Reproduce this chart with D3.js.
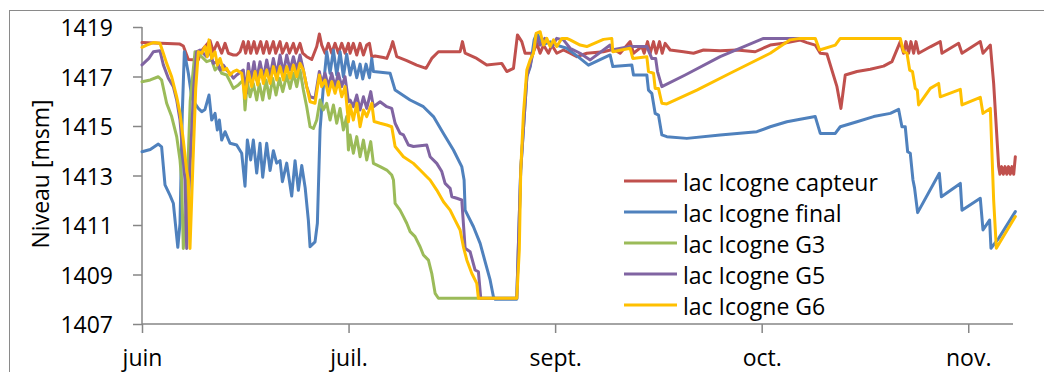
<!DOCTYPE html>
<html><head><meta charset="utf-8">
<script src="https://cdn.jsdelivr.net/npm/d3@7/dist/d3.min.js"></script>
<style>
html,body{margin:0;padding:0;background:#fff;}
svg{display:block;font-family:"Open Sans",sans-serif;}
</style></head>
<body>
<svg id="chart" width="1044" height="372"></svg>
<script>
// ---- data (x = days since start of axis, y = level in msm) ----
const xTickDays = [0, 30, 60, 90, 120];
const xTickLabels = ["juin", "juil.", "sept.", "oct.", "nov."];
const yTicks = [1407, 1409, 1411, 1413, 1415, 1417, 1419];
const seriesNames = ["lac Icogne capteur", "lac Icogne final", "lac Icogne G3", "lac Icogne G5", "lac Icogne G6"];
const seriesColors = ["#C0504D", "#4F81BD", "#9BBB59", "#8064A2", "#FFC000"];

const capteur = [[0,1418.37],[5.5,1418.31],[6.0,1418.23],[6.73,1417.69],[8.18,1417.67],[8.52,1418.0],[9.88,1418.45],[10.36,1418.0],[10.94,1418.37],[11.57,1417.94],[12.06,1418.34],[12.54,1417.94],[13.27,1417.87],[13.75,1417.87],[14.24,1418.0],[14.72,1418.41],[15.06,1417.94],[15.45,1418.41],[15.79,1417.94],[16.27,1418.41],[16.66,1417.94],[17.24,1418.41],[17.63,1417.94],[18.11,1418.41],[18.5,1417.94],[19.08,1418.41],[19.42,1417.94],[20.05,1418.41],[20.39,1417.94],[21.02,1418.34],[21.4,1417.94],[21.99,1418.34],[22.37,1417.94],[22.95,1418.34],[23.34,1417.94],[23.92,1417.8],[24.65,1417.69],[25.38,1418.21],[25.76,1418.72],[26.1,1418.27],[26.59,1417.94],[27.07,1418.34],[27.56,1417.94],[28.04,1418.34],[28.52,1417.94],[29.01,1418.34],[29.49,1417.94],[29.98,1418.34],[30.22,1417.94],[30.7,1418.34],[31.19,1417.87],[31.67,1418.34],[32.16,1417.87],[32.64,1418.27],[33.03,1418.34],[33.37,1417.8],[33.85,1417.83],[35.06,1417.77],[35.55,1417.73],[36.13,1418.14],[36.42,1418.41],[37.0,1417.8],[38.45,1417.64],[39.9,1417.46],[41.26,1417.33],[42.08,1417.73],[43.05,1418.0],[44.75,1418.0],[46.2,1418.0],[46.54,1418.41],[46.93,1417.94],[48.62,1417.73],[50.07,1417.46],[52.25,1417.53],[52.98,1417.2],[53.95,1417.33],[54.53,1418.68],[55.16,1418.41],[55.64,1417.94],[56.76,1417.94],[57.34,1418.34],[57.82,1417.94],[58.31,1418.27],[59.03,1417.94],[59.52,1418.27],[60.24,1417.94],[61.21,1418.07],[62.18,1417.94],[63.15,1417.8],[64.6,1417.94],[67.02,1418.0],[68.48,1418.1],[69.44,1417.94],[70.9,1418.41],[71.38,1417.94],[72.59,1418.21],[72.93,1417.94],[73.42,1418.41],[73.8,1417.94],[74.29,1418.41],[74.67,1417.94],[75.16,1418.41],[75.55,1417.94],[75.98,1418.34],[76.71,1418.07],[78.65,1418.0],[80.1,1417.94],[81.55,1418.07],[83.97,1418.04],[86.39,1418.07],[89.06,1418.0],[91.24,1418.27],[93.17,1418.34],[95.6,1418.47],[96.57,1418.37],[97.78,1418.27],[98.51,1417.94],[99.48,1417.91],[100.93,1416.59],[101.51,1415.71],[102.14,1417.06],[103.84,1417.2],[105.77,1417.29],[107.71,1417.42],[108.92,1417.6],[110.13,1418.41],[110.61,1417.94],[110.95,1418.41],[111.34,1417.94],[111.68,1418.41],[112.07,1417.94],[112.41,1418.41],[112.79,1417.94],[114.49,1418.2],[115.94,1418.41],[116.18,1417.94],[118.6,1418.34],[119.09,1417.94],[121.75,1418.41],[122.14,1417.94],[123.21,1418.27],[123.69,1416.72],[124.42,1413.36],[124.6,1413.05],[124.85,1413.36],[125.1,1413.05],[125.35,1413.36],[125.6,1413.05],[125.85,1413.36],[126.1,1413.05],[126.35,1413.36],[126.6,1413.05],[126.84,1413.76]];

const final = [[0,1413.96],[1.2,1414.05],[2.37,1414.27],[2.85,1414.16],[3.34,1412.62],[4.07,1412.2],[4.55,1411.88],[5.04,1410.53],[5.2,1410.1],[5.52,1411.07],[5.85,1415.5],[6.15,1418.0],[6.73,1417.13],[7.22,1416.18],[7.7,1415.9],[8.18,1415.71],[8.67,1415.58],[9.15,1415.67],[9.73,1416.25],[10.12,1415.24],[10.61,1415.51],[10.94,1414.84],[11.24,1415.24],[11.57,1414.43],[12.06,1414.77],[12.79,1414.3],[13.75,1414.23],[14.48,1413.9],[14.96,1412.57],[15.3,1414.43],[15.79,1413.63],[16.17,1414.43],[16.66,1413.1],[17.14,1414.3],[17.53,1412.93],[18.11,1414.3],[18.6,1413.2],[19.08,1414.0],[19.56,1413.5],[20.05,1413.6],[20.39,1412.75],[21.02,1413.5],[21.74,1412.17],[22.23,1413.6],[22.71,1412.4],[23.2,1413.4],[23.7,1412.5],[24.16,1411.2],[24.41,1410.12],[25.13,1410.32],[25.47,1411.07],[25.86,1414.84],[26.34,1416.59],[26.83,1418.0],[27.31,1417.13],[27.8,1418.07],[28.28,1417.06],[28.77,1418.0],[29.25,1416.99],[29.73,1417.9],[30.22,1417.06],[30.7,1417.6],[31.19,1416.95],[31.67,1417.5],[32.06,1416.9],[32.54,1417.5],[33.03,1416.95],[33.37,1417.73],[33.61,1417.2],[36.03,1417.13],[36.76,1416.45],[38.94,1416.05],[40.87,1415.78],[42.33,1415.38],[43.78,1414.7],[45.23,1414.03],[46.44,1413.36],[46.78,1412.82],[46.93,1411.6],[48.14,1410.93],[49.11,1410.26],[49.83,1409.52],[50.56,1408.78],[51.04,1408.1],[51.3,1408.0],[54.43,1408.0],[55.0,1413.2],[55.9,1417.0],[56.4,1417.4],[56.95,1418.48],[57.34,1418.74],[58.3,1418.3],[59.3,1418.4],[60.2,1418.27],[61.7,1418.14],[63.63,1417.73],[64.84,1417.46],[67.99,1417.87],[68.38,1417.4],[71.14,1417.46],[71.38,1417.06],[73.32,1417.06],[73.56,1416.45],[74.04,1416.32],[74.53,1415.51],[75.01,1415.44],[75.5,1414.64],[76.22,1414.57],[79.13,1414.5],[83.97,1414.64],[89.3,1414.77],[91.24,1414.97],[93.66,1415.17],[95.6,1415.27],[97.78,1415.38],[98.51,1414.7],[100.69,1414.7],[101.41,1414.97],[103.84,1415.17],[106.26,1415.38],[108.68,1415.51],[109.89,1415.67],[110.37,1414.97],[110.85,1414.97],[111.2,1413.96],[111.58,1413.9],[111.97,1412.82],[112.2,1412.5],[112.65,1411.5],[115.8,1413.09],[116.1,1412.14],[118.85,1412.68],[119.09,1411.6],[121.75,1412.08],[122.14,1410.8],[123.1,1411.2],[123.3,1410.06],[124.42,1410.46],[126.84,1411.54]];

const g3 = [[0,1416.79],[1.2,1416.86],[2.37,1416.99],[2.85,1416.86],[3.58,1415.92],[4.31,1415.38],[5.04,1414.57],[5.52,1413.62],[5.76,1412.8],[6.0,1410.05],[6.5,1412.0],[7.0,1416.0],[7.7,1418.0],[7.94,1418.0],[8.67,1417.8],[9.39,1417.6],[10.12,1417.67],[10.61,1417.26],[11.09,1417.4],[11.57,1417.13],[12.3,1417.06],[12.79,1416.79],[13.27,1416.52],[14.0,1416.66],[14.72,1416.86],[14.96,1415.65],[15.3,1416.79],[15.69,1416.18],[16.17,1416.72],[16.66,1416.05],[17.05,1416.72],[17.53,1416.05],[18.02,1416.86],[18.5,1416.12],[18.98,1416.93],[19.47,1416.25],[19.95,1416.93],[20.44,1416.39],[21.02,1417.06],[21.5,1416.52],[21.99,1417.13],[22.47,1416.59],[22.95,1417.26],[23.44,1416.45],[23.92,1415.78],[24.41,1414.97],[24.89,1414.9],[25.38,1415.24],[25.86,1416.05],[26.34,1415.65],[26.83,1415.92],[27.31,1415.24],[27.8,1415.85],[28.28,1415.11],[28.77,1415.71],[29.25,1414.84],[29.73,1415.38],[29.98,1414.03],[30.22,1414.64],[30.7,1413.9],[31.19,1414.57],[31.67,1413.76],[32.16,1414.43],[32.64,1413.63],[33.22,1414.37],[33.61,1413.49],[34.58,1413.36],[35.55,1413.22],[36.27,1413.02],[36.52,1412.82],[36.76,1411.87],[37.48,1411.6],[37.97,1411.34],[38.45,1411.07],[38.94,1410.73],[39.66,1410.53],[40.39,1410.12],[40.87,1409.79],[41.6,1409.58],[42.08,1409.05],[42.57,1408.24],[43.05,1408.04],[54.43,1408.04]];

const g5 = [[0,1417.47],[1.0,1417.73],[1.65,1418.0],[2.61,1418.04],[3.1,1417.47],[3.83,1416.93],[4.55,1416.59],[5.04,1416.05],[5.52,1415.24],[6.0,1413.63],[6.24,1412.82],[6.49,1410.05],[7.0,1413.5],[7.5,1416.5],[7.94,1418.0],[8.43,1418.07],[8.91,1417.94],[9.39,1417.8],[9.88,1418.0],[10.36,1417.53],[10.94,1417.6],[11.33,1417.26],[11.82,1417.46],[12.3,1417.26],[12.79,1417.13],[13.27,1416.93],[13.75,1417.06],[14.72,1417.26],[15.11,1416.32],[15.45,1417.53],[15.79,1416.79],[16.27,1417.6],[16.66,1416.86],[17.14,1417.6],[17.63,1416.93],[18.11,1417.67],[18.6,1417.0],[19.08,1417.73],[19.56,1417.06],[20.05,1417.87],[20.53,1417.13],[21.02,1417.87],[21.5,1417.26],[21.99,1417.8],[22.47,1417.26],[22.95,1417.87],[23.44,1417.26],[23.92,1416.59],[24.41,1416.18],[25.13,1416.12],[25.76,1417.2],[26.1,1416.72],[26.59,1417.13],[27.07,1416.59],[27.56,1417.13],[28.04,1416.59],[28.52,1417.13],[29.01,1416.59],[29.49,1416.99],[29.98,1415.98],[30.22,1416.05],[30.7,1415.78],[31.19,1416.25],[31.67,1415.65],[32.16,1416.18],[32.64,1415.71],[33.22,1416.39],[33.61,1415.78],[34.58,1415.98],[35.55,1415.78],[36.27,1415.71],[36.76,1415.11],[37.48,1414.7],[37.97,1414.64],[38.7,1414.23],[39.42,1414.17],[41.36,1414.23],[41.84,1413.76],[42.81,1413.49],[43.54,1413.16],[44.02,1412.68],[44.75,1412.48],[45.0,1412.14],[45.72,1412.08],[46.44,1412.01],[46.93,1410.06],[47.65,1409.92],[48.38,1409.18],[48.86,1409.11],[49.2,1408.04],[54.43,1408.04],[55.0,1413.2],[55.9,1417.0],[56.5,1417.6],[57.34,1418.6],[57.82,1418.27],[58.5,1418.54],[59.52,1418.2],[60.24,1418.54],[61.21,1418.48],[62.18,1418.14],[63.63,1417.94],[65.09,1417.67],[67.99,1418.27],[68.23,1418.07],[70.9,1418.21],[73.32,1418.21],[74.04,1417.73],[74.6,1417.73],[74.87,1417.2],[75.5,1416.59],[78.89,1417.06],[83.97,1417.8],[90.27,1418.54],[95.6,1418.54]];

const g6 = [[0,1418.18],[0.68,1418.27],[1.65,1418.37],[2.61,1418.34],[3.1,1417.94],[3.58,1417.53],[4.31,1416.99],[5.04,1416.18],[5.52,1415.51],[6.0,1414.43],[6.49,1413.2],[6.73,1412.82],[6.97,1410.05],[7.4,1413.5],[7.8,1416.5],[8.18,1418.0],[8.67,1417.94],[9.15,1418.21],[9.49,1417.8],[9.73,1418.48],[10.12,1417.73],[10.61,1418.0],[10.94,1417.46],[11.33,1417.73],[11.82,1417.26],[12.3,1417.33],[12.79,1417.06],[13.27,1417.2],[13.75,1417.26],[14.48,1417.13],[14.96,1416.12],[15.45,1417.2],[15.93,1416.59],[16.42,1417.2],[16.8,1416.66],[17.29,1417.26],[17.63,1416.72],[18.11,1417.26],[18.6,1416.72],[19.08,1417.4],[19.56,1416.86],[20.05,1417.4],[20.53,1416.86],[21.02,1417.4],[21.5,1416.93],[21.99,1417.46],[22.47,1416.99],[22.95,1417.53],[23.44,1417.26],[23.92,1416.59],[24.41,1415.98],[25.13,1415.92],[25.76,1417.06],[26.1,1416.59],[26.59,1416.86],[27.07,1416.25],[27.56,1416.79],[28.04,1416.32],[28.52,1416.79],[29.01,1416.18],[29.49,1416.59],[29.98,1415.17],[30.22,1415.85],[30.7,1415.24],[31.19,1415.92],[31.67,1414.97],[32.16,1415.65],[32.64,1415.38],[33.37,1415.92],[33.71,1415.18],[34.58,1415.11],[35.55,1415.04],[36.27,1414.97],[36.76,1414.17],[37.97,1413.76],[39.42,1413.49],[40.39,1413.22],[41.36,1412.95],[41.84,1412.82],[42.81,1412.41],[43.78,1411.94],[44.75,1411.6],[45.47,1411.2],[46.2,1410.8],[46.68,1410.12],[47.17,1409.59],[47.89,1409.05],[48.62,1408.64],[48.86,1408.04],[54.43,1408.04],[54.8,1410.0],[55.01,1413.22],[55.4,1415.5],[55.89,1417.26],[56.37,1417.67],[56.85,1417.94],[57.24,1418.74],[57.82,1418.81],[58.31,1418.27],[58.79,1418.54],[59.27,1418.21],[59.76,1418.48],[60.24,1418.21],[60.97,1418.54],[61.7,1418.54],[62.18,1418.48],[63.63,1418.27],[64.6,1418.21],[67.02,1418.5],[68.23,1418.54],[68.38,1418.0],[70.9,1418.14],[71.28,1417.73],[73.32,1417.8],[73.56,1417.2],[74.29,1417.13],[74.53,1416.52],[75.01,1416.52],[75.5,1415.92],[76.22,1415.89],[80.58,1416.45],[85.42,1417.13],[91.24,1417.94],[94.14,1418.48],[95.6,1418.54],[97.78,1418.54],[98.41,1418.07],[100.69,1418.27],[101.41,1418.54],[110.13,1418.54],[110.61,1418.0],[111.1,1417.94],[111.49,1417.26],[111.9,1417.2],[112.31,1416.52],[112.6,1416.45],[112.79,1415.85],[114.49,1416.52],[115.7,1416.72],[115.94,1416.18],[118.85,1416.48],[119.09,1415.85],[121.75,1416.16],[122.14,1415.51],[123.21,1415.71],[123.69,1412.01],[124.08,1410.06],[126.84,1411.34]];

const allSeries = [capteur, final, g3, g5, g6];

// ---- drawing ----
const svg = d3.select("#chart");
const x = d3.scaleLinear().domain([0, 126.5]).range([142, 1013]);
const y = d3.scaleLinear().domain([1407, 1419]).range([324, 27]);
const axisColor = "#868686";
const fs = 23;

// chart area border (only top/left visible in the crop)
svg.append("rect").attr("x", 9.5).attr("y", 10.5).attr("width", 1100).attr("height", 500)
  .attr("fill", "none").attr("stroke", "#8a8a8a").attr("stroke-width", 1);

// axes
const yAxis = d3.axisLeft(y).tickValues(yTicks).tickSize(9).tickPadding(20).tickFormat(d3.format("d"));
const gy = svg.append("g").attr("transform", "translate(142,0)").call(yAxis);
const xAxis = d3.axisBottom(x).tickValues(xTickDays).tickSize(9).tickPadding(17)
  .tickFormat((d, i) => xTickLabels[i]);
const gx = svg.append("g").attr("transform", "translate(0,324)").call(xAxis);
[gy, gx].forEach(g => {
  g.select(".domain").attr("stroke", axisColor).attr("stroke-width", 1.5);
  g.selectAll(".tick line").attr("stroke", axisColor).attr("stroke-width", 1.5);
  g.selectAll(".tick text").attr("fill", "#000").style("font-size", fs + "px").style("font-family", '"Open Sans",sans-serif');
});
gy.selectAll(".tick text").attr("dy", "0.39em");
// y domain path without outer ticks
gy.select(".domain").attr("d", `M0,${y(1419)}V${y(1407)}`);
gx.select(".domain").attr("d", `M${x(0)},0H${x(126.5)}`);

// y title
svg.append("text").attr("transform", "translate(49,174) rotate(-90)")
  .attr("text-anchor", "middle").style("font-size", fs + "px").attr("fill", "#000")
  .text("Niveau [msm]");

// lines
const line = d3.line().x(d => x(d[0])).y(d => y(d[1]));
allSeries.forEach((s, i) => {
  svg.append("path").datum(s).attr("d", line).attr("fill", "none")
    .attr("stroke", seriesColors[i]).attr("stroke-width", 3)
    .attr("stroke-linejoin", "round").attr("stroke-linecap", "round");
});

// legend
const legendRows = [181, 212, 243, 274, 305];
seriesNames.forEach((name, i) => {
  const ly = legendRows[i];
  svg.append("line").attr("x1", 624).attr("x2", 677).attr("y1", ly).attr("y2", ly)
    .attr("stroke", seriesColors[i]).attr("stroke-width", 3);
  svg.append("text").attr("x", 683).attr("y", ly + 10).style("font-size", fs + "px")
    .attr("fill", "#000").text(name);
});
</script>
</body></html>
